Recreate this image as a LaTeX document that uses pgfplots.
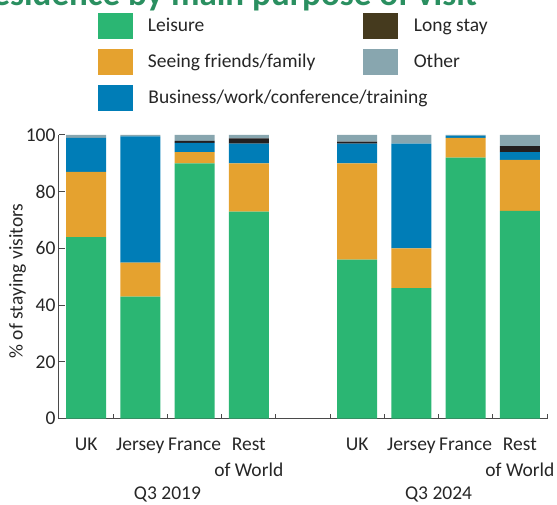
\documentclass[border=0pt]{standalone}
\usepackage{fontspec}
\setmainfont{Carlito}
\usepackage{pgfplots}
\usepackage{pgfplotstable}
\pgfplotsset{compat=1.18}
\definecolor{leis}{HTML}{2BB673}
\definecolor{sff}{HTML}{E5A22F}
\definecolor{bus}{HTML}{007DB7}
\definecolor{lsbar}{HTML}{231F20}
\definecolor{lsleg}{HTML}{453A1E}
\definecolor{oth}{HTML}{88A6AF}
\definecolor{axisgray}{HTML}{4A4A4A}
\definecolor{titlegreen}{HTML}{2A8F60}

\pgfplotstableread{
x L S B LS O
0 64 23 12 0 1
1 43 12 44.5 0 0.5
2 90 4 3.2 0.7 2.1
3 73 17 7 1.8 1.2
5 56 34 7 0.7 2.3
6 46 14 37 0 3
7 92 7 0.8 0 0.2
8 73.2 18 2.8 2.1 3.9
}\data

\begin{document}
\begin{tikzpicture}
\begin{axis}[
  at={(0,0)}, anchor=south west,
  scale only axis, width=488bp, height=283.5bp,
  clip=false,
  ybar stacked, bar width=40bp,
  xmin=-0.5, xmax=8.5, ymin=0, ymax=100,
  axis x line*=bottom, axis y line*=left,
  axis line style={draw=axisgray, line width=1bp},
  xtick={0,1,2,3,5,6,7,8},
  xticklabels={UK,Jersey,France,{Rest\\of World},UK,Jersey,France,{Rest\\of World}},
  major x tick style={draw=none},
  minor xtick={0.5,1.5,2.5,3.5,4.5,5.5,6.5,7.5,8.5},
  minor tick length=5bp,
  major tick length=6bp,
  ytick={0,20,40,60,80,100},
  tick align=inside,
  every tick/.style={draw=axisgray, line width=1bp},
  tick label style={font=\fontsize{19.5bp}{26bp}\selectfont, text=black!85},
  xticklabel style={align=center, yshift=-16bp},
  /pgf/number format/assume math mode=true,
  every axis y label/.style={at={(axis description cs:-0.085,0.485)}, rotate=90, anchor=center, font=\fontsize{19.5bp}{24bp}\selectfont, text=black!85},
  ylabel={\% of staying visitors},
  legend style={at={(0.0789,1.430)}, anchor=north west, draw=none, fill=none,
    inner sep=0pt, outer sep=0pt, row sep=10.5bp, column sep=16bp,
    /tikz/every even column/.append style={column sep=48bp},
    nodes={inner sep=0pt, anchor=west, font=\fontsize{19.5bp}{23bp}\selectfont, text=black!85}},
  legend cell align=left,
  legend columns=2,
]
\addplot[fill=leis, draw=none, forget plot] table[x=x, y=L]{\data};
\addplot[fill=sff, draw=none, forget plot] table[x=x, y=S]{\data};
\addplot[fill=bus, draw=none, forget plot] table[x=x, y=B]{\data};
\addplot[fill=lsbar, draw=none, forget plot] table[x=x, y=LS]{\data};
\addplot[fill=oth, draw=none, forget plot] table[x=x, y=O]{\data};
\addlegendimage{legend image code/.code={\fill[leis] (0bp,-12.5bp) rectangle (34bp,12.5bp);}}
\addlegendentry{Leisure}
\addlegendimage{legend image code/.code={\fill[lsleg] (0bp,-12.5bp) rectangle (34bp,12.5bp);}}
\addlegendentry{Long stay}
\addlegendimage{legend image code/.code={\fill[sff] (0bp,-12.5bp) rectangle (34bp,12.5bp);}}
\addlegendentry{Seeing friends/family}
\addlegendimage{legend image code/.code={\fill[oth] (0bp,-12.5bp) rectangle (34bp,12.5bp);}}
\addlegendentry{Other}
\addlegendimage{legend image code/.code={\fill[bus] (0bp,-12.5bp) rectangle (34bp,12.5bp);}}
\addlegendentry{\makebox[0pt][l]{Business/work/conference/training}}
\node[font=\fontsize{19.5bp}{24bp}\selectfont, text=black!85] at (axis cs:1.5,0) [yshift=-75.5bp] {Q3 2019};
\node[font=\fontsize{19.5bp}{24bp}\selectfont, text=black!85] at (axis cs:6.5,0) [yshift=-75.5bp] {Q3 2024};
\end{axis}
\pgfresetboundingbox
\useasboundingbox (-59bp,-86.5bp) rectangle (498bp,418.5bp);
\begin{scope}
\clip (-59bp,-86.5bp) rectangle (498bp,418.5bp);
\node[anchor=base east, inner sep=0pt, font=\bfseries\fontsize{35bp}{40bp}\selectfont, text=titlegreen] at (418bp,413bp) {Staying visitors by country of residence by main purpose of visit};
\end{scope}
\end{tikzpicture}
\end{document}
